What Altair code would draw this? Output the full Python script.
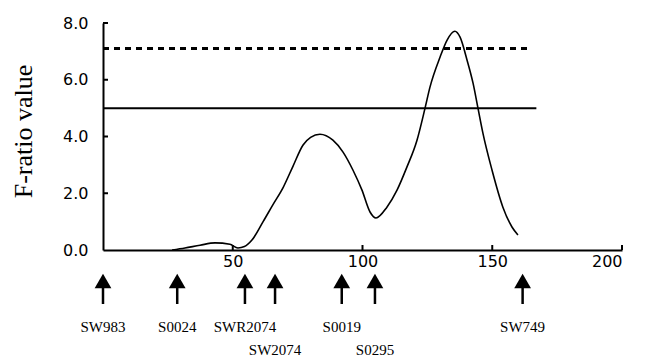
import altair as alt
import pandas as pd

# Curve (F-ratio along the chromosome, cM)
curve_x = [26.6, 31.6, 37.4, 43.2, 48.9, 52.0, 54.5, 57.4, 61.7, 65.5, 69.4, 73.2,
           77.1, 80.0, 83.6, 88.6, 92.5, 96.3, 99.8, 102.9, 105.2, 109.4, 113.3,
           117.1, 121.0, 124.1, 126.0, 129.9, 132.6, 135.6, 137.6, 140.3, 142.6,
           144.5, 146.4, 149.9, 154.1, 157.6, 159.9]
curve_y = [0.0, 0.07, 0.17, 0.25, 0.2, 0.07, 0.12, 0.35, 1.0, 1.6, 2.2, 2.95,
           3.7, 3.97, 4.08, 3.87, 3.45, 2.82, 2.11, 1.34, 1.13, 1.51, 2.11,
           2.92, 3.87, 5.0, 5.74, 6.8, 7.4, 7.71, 7.5, 6.69, 5.88,
           5.0, 4.12, 2.82, 1.51, 0.81, 0.53]

# Threshold lines
thr_values = [5.0, 7.1]
thr_end = [167.0, 163.5]
thr_style = ["solid", "dashed"]

# Markers
marker_names = ["SW983", "S0024", "SWR2074", "SW2074", "S0019", "S0295", "SW749"]
marker_pos = [0.0, 28.6, 54.7, 66.3, 92.0, 104.8, 161.7]
marker_row = [0, 0, 0, 1, 0, 1, 0]

# Axes
y_ticks = [2, 4, 6, 8]
x_ticks = [50, 100, 150, 200]

curve_df = pd.DataFrame({"x": curve_x, "y": curve_y})
thr_df = pd.DataFrame({"y": thr_values, "x0": [0.0, 0.0], "x1": thr_end, "style": thr_style})
mk_df = pd.DataFrame({"name": marker_names, "pos": marker_pos, "row": marker_row})
yt_df = pd.DataFrame({"v": y_ticks})
xt_df = pd.DataFrame({"v": x_ticks})

W, H = 519, 227
xs = alt.Scale(domain=[0, 200], nice=False)
ys = alt.Scale(domain=[0, 8], nice=False)

x_axis = alt.Axis(values=x_ticks, format="d", title=None, labelPadding=3)
y_axis = alt.Axis(values=[0, 2, 4, 6, 8], format=".1f", title="F-ratio value",
                  labelPadding=15, titleX=-80, titleY=108, titleAngle=270,
                  titleAlign="center", titleBaseline="middle",
                  titleFont="Liberation Serif", titleFontSize=26,
                  titleFontWeight="normal", titleColor="black")

curve = alt.Chart(curve_df).mark_line(color="black", strokeWidth=1.6,
                                      interpolate="monotone").encode(
    x=alt.X("x:Q", scale=xs, axis=x_axis),
    y=alt.Y("y:Q", scale=ys, axis=y_axis),
)

solid = alt.Chart(thr_df[thr_df["style"] == "solid"]).mark_rule(
    color="black", strokeWidth=2).encode(
    x=alt.X("x0:Q", scale=xs), x2="x1:Q", y=alt.Y("y:Q", scale=ys))
dashed = alt.Chart(thr_df[thr_df["style"] == "dashed"]).mark_rule(
    color="black", strokeWidth=3, strokeDash=[6, 5]).encode(
    x=alt.X("x0:Q", scale=xs), x2="x1:Q", y=alt.Y("y:Q", scale=ys))

yticks = alt.Chart(yt_df).mark_rule(color="black", strokeWidth=2).encode(
    y=alt.Y("v:Q", scale=ys), x=alt.value(0), x2=alt.value(5))
xticks = alt.Chart(xt_df).mark_rule(color="black", strokeWidth=2).encode(
    x=alt.X("v:Q", scale=xs), y=alt.value(H), y2=alt.value(H - 5))

heads = alt.Chart(mk_df).mark_point(shape="triangle-up", filled=True, color="black",
                                    opacity=1, size=280).encode(
    x=alt.X("pos:Q", scale=xs), y=alt.value(258))
shafts = alt.Chart(mk_df).mark_rule(color="black", strokeWidth=2.5).encode(
    x=alt.X("pos:Q", scale=xs), y=alt.value(262), y2=alt.value(281))

label_base = alt.Chart(mk_df).mark_text(font="Liberation Serif", fontSize=15,
                                        color="black", baseline="middle",
                                        align="center")
labels_row0 = label_base.transform_filter(alt.datum.row == 0).encode(
    x=alt.X("pos:Q", scale=xs), y=alt.value(304), text="name:N")
labels_row1 = label_base.transform_filter(alt.datum.row == 1).encode(
    x=alt.X("pos:Q", scale=xs), y=alt.value(327), text="name:N")

chart = alt.layer(curve, solid, dashed, yticks, xticks, shafts, heads,
                  labels_row0, labels_row1).properties(
    width=W, height=H,
    padding={"left": 95, "top": 15, "right": 15, "bottom": 110},
    autosize=alt.AutoSizeParams(type="none"),
).configure_view(stroke=None).configure_axis(
    grid=False, domainColor="black", domainWidth=2, tickSize=0,
    labelFont="DejaVu Sans", labelFontSize=16, labelColor="black",
)

chart.save("out.html", embed_options={"renderer": "svg", "actions": False})
